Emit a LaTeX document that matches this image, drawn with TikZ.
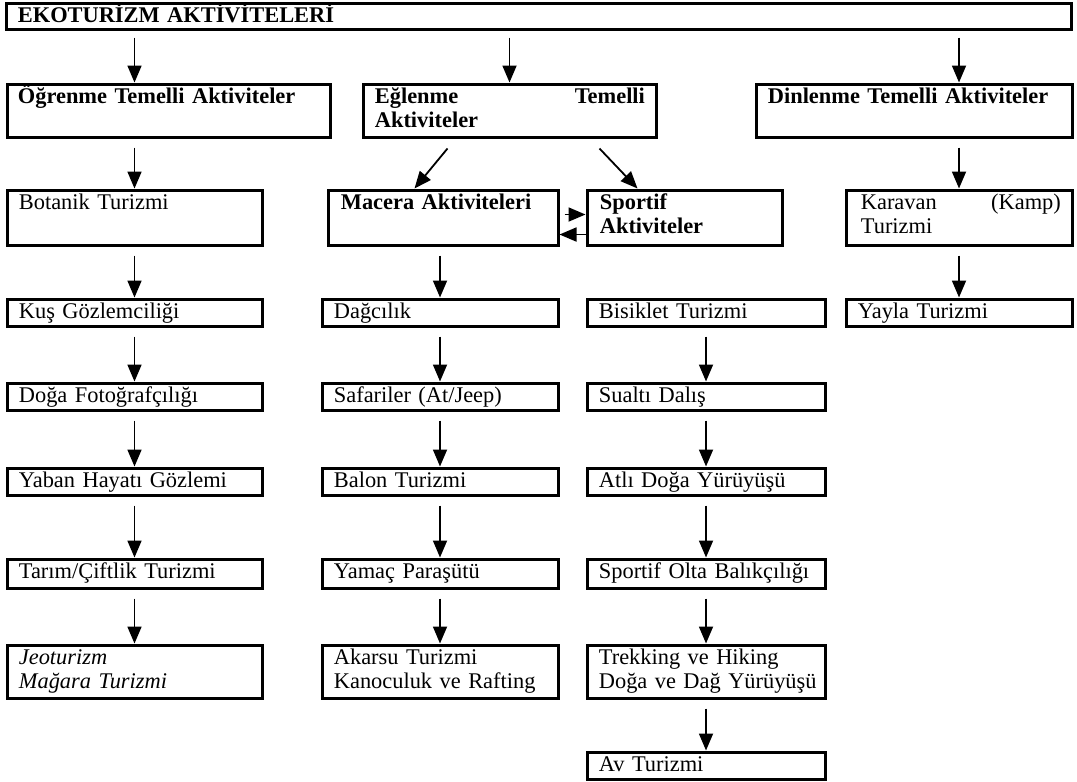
\documentclass[tikz,border=0pt]{standalone}
\usepackage{fontspec}
\setmainfont{Liberation Serif}
\usetikzlibrary{arrows.meta,calc,fit}
\begin{document}
\begin{tikzpicture}[x=0.5pt,y=-0.5pt,
        box/.style={draw,line width=1.5pt,inner sep=0pt},
        txt/.style={anchor=base west,inner sep=0pt,align=left,text width=130pt,
            font=\fontsize{11.2}{11.8}\selectfont},
        hd/.style={txt,font=\fontsize{11.2}{11.8}\selectfont\bfseries},
        arr/.style={line width=0.9pt,-{Triangle[length=8.5pt,width=7pt]}}]
        \useasboundingbox (0,0) rectangle (1077,782);
        % boxes
        \foreach \n/\a/\b/\c/\d in {top/6/3/1071/29,
                ogr/7/84/330/137, egl/363/84/656/137, din/756/84/1072/137,
                bot/7/190/262/245, mac/328/190/558/245, spo/587/190/782/245, kar/846/190/1072/245,
                kus/7/299/262/326, dag/322/299/558/326, bis/587/299/825/326, yay/846/299/1072/326,
                dfo/7/383/262/410, saf/322/383/558/410, sua/587/383/825/410,
                yab/7/468/262/495, bal/322/468/558/495, atl/587/468/825/495,
                tar/7/559/262/588, yam/322/559/558/588, olt/587/559/825/588,
                jeo/7/645/262/698, aka/322/645/558/698, tre/587/645/825/698,
                av/587/752/825/779}
            \node[box,fit={(\a,\b) (\c,\d)}] (\n) {};
        % headings
        \node[hd,text width=170pt] (top-t) at ($(top.north west)+(13,21)$) {EKOTURİZM AKTİVİTELERİ};
        \node[hd,text width=155pt] (ogr-t) at ($(ogr.north west)+(12,21)$) {Öğrenme Temelli Aktiviteler};
        \node[hd,text width=135pt] (egl-t) at ($(egl.north west)+(13,21)$) {Eğlenme\hfill Temelli\\Aktiviteler};
        \node[hd,text width=150pt] (din-t) at ($(din.north west)+(13,21)$) {Dinlenme Temelli Aktiviteler};
        \node[hd] (mac-t) at ($(mac.north west)+(14,21)$) {Macera Aktiviteleri};
        \node[hd] (spo-t) at ($(spo.north west)+(14,21)$) {Sportif\\Aktiviteler};
        \node[txt,text width=100pt] (kar-t) at ($(kar.north west)+(16,21)$) {Karavan\hfill(Kamp)\\Turizmi};
        % items
        \foreach \n/\t in {bot/{Botanik Turizmi}, kus/{Kuş Gözlemciliği}, dfo/{Doğa Fotoğrafçılığı},
                yab/{Yaban Hayatı Gözlemi}, tar/{Tarım/Çiftlik Turizmi},
                dag/{Dağcılık}, saf/{Safariler (At/Jeep)}, bal/{Balon Turizmi},
                yam/{Yamaç Paraşütü}, aka/{Akarsu Turizmi\\Kanoculuk ve Rafting},
                bis/{Bisiklet Turizmi}, sua/{Sualtı Dalış}, atl/{Atlı Doğa Yürüyüşü},
                olt/{Sportif Olta Balıkçılığı}, tre/{Trekking ve Hiking\\Doğa ve Dağ Yürüyüşü},
                av/{Av Turizmi}, yay/{Yayla Turizmi}}
            \node[txt] (\n-t) at ($(\n.north west)+(13,21)$) {\t};
        \node[txt,font=\fontsize{11.2}{11.8}\selectfont\itshape] (jeo-t) at ($(jeo.north west)+(13,21)$) {Jeoturizm\\Mağara Turizmi};
        % arrows
        \foreach \b/\c in {ogr/bot, egl/egl, din/kar}
            \draw[arr] ($(top.south -| \c.north)+(0,7)$) -- (\b.north -| \c.north);
        \foreach \a/\b in {ogr/bot, bot/kus, kus/dfo, dfo/yab, yab/tar, tar/jeo,
                mac/dag, dag/saf, saf/bal, bal/yam, yam/aka,
                bis/sua, sua/atl, atl/olt, olt/tre, tre/av,
                din/kar, kar/yay}
            \draw[arr] ($(\a.south -| \b.north)+(0,9)$) -- (\b.north);
        \draw[arr] ($(egl.south west)+(86,10)$) -- ($(mac.north west)+(88,0)$);
        \draw[arr] ($(egl.south west)+(238,10)$) -- ($(spo.north west)+(52,0)$);
        \draw[arr] ($(mac.north east)+(5,26)$) -- ($(spo.north west)+(0,26)$);
        \draw[arr] ($(spo.north west)+(0,46)$) -- ($(mac.north east)+(0,46)$);
    \end{tikzpicture}
\end{document}
